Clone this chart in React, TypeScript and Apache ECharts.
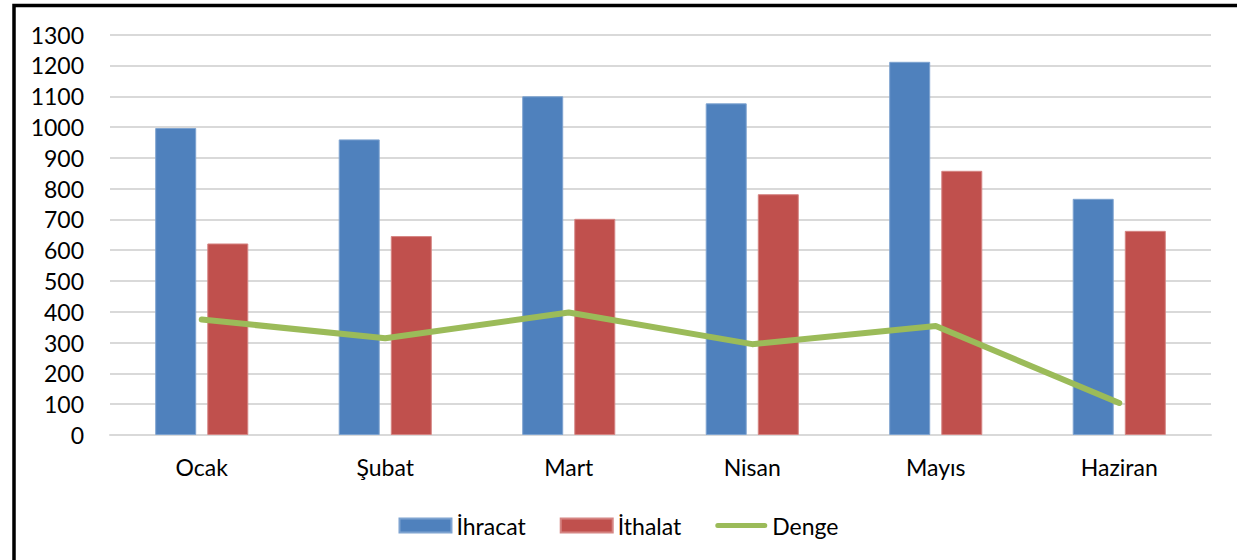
import React, { useEffect, useRef } from "react";
import * as echarts from "echarts";

const categories = ["Ocak", "Şubat", "Mart", "Nisan", "Mayıs", "Haziran"];
const ihracat = [997, 960, 1100, 1077, 1212, 767];
const ithalat = [622, 646, 702, 782, 858, 663];
const denge = [375, 314, 398, 295, 354, 104];
const yTicks = { min: 0, max: 1300, interval: 100 };

const FONT = "Lato";
const FS = 23;

export default function App() {
  const ref = useRef<HTMLDivElement>(null);
  useEffect(() => {
    if (!ref.current) return;
    const chart = echarts.init(ref.current, null, { renderer: "svg" });
    chart.setOption({
      animation: false,
      backgroundColor: "#ffffff",
      textStyle: { fontFamily: FONT },
      grid: { left: 110, right: 26, top: 34.7, bottom: 125, containLabel: false },
      legend: {
        top: 509,
        left: "center",
        itemWidth: 52,
        itemHeight: 14,
        itemGap: 34,
        textStyle: { fontFamily: FONT, fontSize: FS, color: "#000" },
        data: [
          { name: "İhracat", icon: "rect" },
          { name: "İthalat", icon: "rect" },
          { name: "Denge", icon: "path://M2.5,0 L49.5,0 A2.5,2.5 0 0 1 49.5,5 L2.5,5 A2.5,2.5 0 0 1 2.5,0 Z" },
        ],
      },
      xAxis: {
        type: "category",
        data: categories,
        axisLine: { lineStyle: { color: "#D9D9D9", width: 2 } },
        axisTick: { show: false },
        axisLabel: { fontFamily: FONT, fontSize: FS, color: "#000", margin: 20 },
      },
      yAxis: {
        type: "value",
        min: yTicks.min,
        max: yTicks.max,
        interval: yTicks.interval,
        axisLine: { show: false },
        axisTick: { show: false },
        axisLabel: {
          fontFamily: FONT,
          fontSize: FS,
          color: "#000",
          margin: 26,
          formatter: (v: number) => String(v),
        },
        splitLine: { lineStyle: { color: "#D9D9D9", width: 2 } },
      },
      series: [
        {
          name: "İhracat",
          type: "bar",
          data: ihracat,
          barWidth: 41,
          barGap: "27%",
          itemStyle: { color: "#4F81BD", borderColor: "#7EA3D0", borderWidth: 1 },
        },
        {
          name: "İthalat",
          type: "bar",
          data: ithalat,
          barWidth: 41,
          itemStyle: { color: "#C0504D", borderColor: "#D58583", borderWidth: 1 },
        },
        {
          name: "Denge",
          type: "line",
          data: denge,
          symbol: "none",
          itemStyle: { color: "#9BBB59" },
          lineStyle: { color: "#9BBB59", width: 6, cap: "round", join: "round" },
          z: 5,
        },
      ],
      graphic: [
        {
          type: "rect",
          shape: { x: 14, y: 5.5, width: 1400, height: 800 },
          style: { fill: "none", stroke: "#000", lineWidth: 3.5 },
          z: 100,
        },
      ],
    });
    return () => chart.dispose();
  }, []);
  return (
    <div
      ref={ref}
      style={{ position: "absolute", left: 0, top: 0, width: 1237, height: 560 }}
    />
  );
}
